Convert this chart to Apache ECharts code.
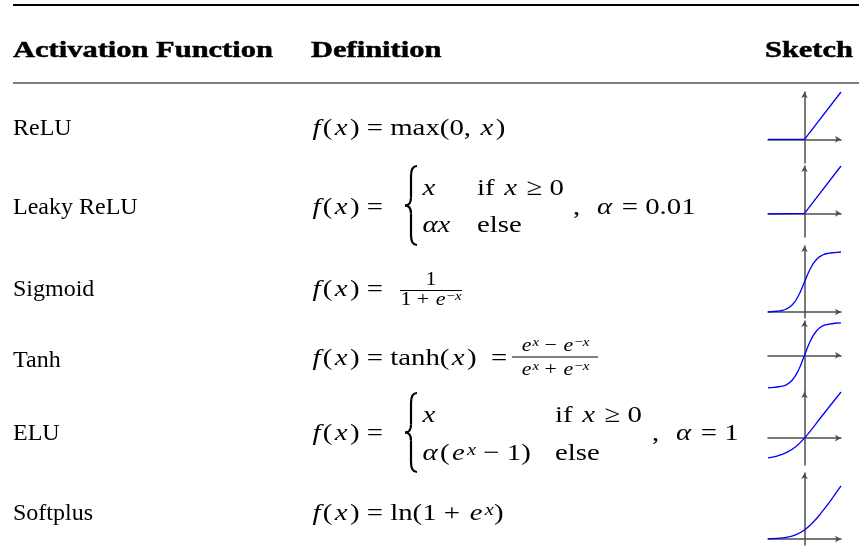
<!DOCTYPE html>
<html>
<head>
<meta charset="utf-8">
<script src="https://cdn.jsdelivr.net/npm/echarts@6/dist/echarts.min.js"></script>
<style>
  html, body { margin: 0; padding: 0; background: #fff; }
  #main { width: 859px; height: 548px; }
</style>
</head>
<body>
<div id="main"></div>
<script>
// table texts
var headers = ['Activation Function', 'Definition', 'Sketch'];
var names = ['ReLU', 'Leaky ReLU', 'Sigmoid', 'Tanh', 'ELU', 'Softplus'];

// sketch curves
var reluX = [-1, 0, 1];
var reluY = [0, 0, 1];
var leakyX = [-1, 0, 1];
var leakyY = [-0.01, 0, 1];
var sigmoidX = [-6, -5, -4, -3, -2, -1, 0, 1, 2, 3, 4, 5, 6];
var sigmoidY = [0.00, 0.01, 0.02, 0.05, 0.12, 0.27, 0.50, 0.73, 0.88, 0.95, 0.98, 0.99, 1.00];
var tanhX = [-3, -2.5, -2, -1.5, -1, -0.5, 0, 0.5, 1, 1.5, 2, 2.5, 3];
var tanhY = [-1.00, -0.99, -0.96, -0.91, -0.76, -0.46, 0, 0.46, 0.76, 0.91, 0.96, 0.99, 1.00];
var eluX = [-2, -1.5, -1, -0.5, 0, 1, 2];
var eluY = [-0.86, -0.78, -0.63, -0.39, 0, 1, 2];
var softplusX = [-4, -3, -2, -1, 0, 1, 2, 3, 4];
var softplusY = [0.02, 0.05, 0.13, 0.31, 0.69, 1.31, 2.13, 3.05, 4.02];

// axis ranges of each sketch
var sketchXRange = [[-1, 1], [-1, 1], [-6, 6], [-3, 3], [-2, 2], [-4, 4]];
var sketchYRange = [[-0.5, 1], [-0.5, 1], [-0.1, 1.1], [-1.13, 1.06], [-1.17, 2], [-0.45, 5]];

var F = '"Liberation Serif", "DejaVu Serif", serif';
var FS = 24;

var sketches = [
  [reluX, reluY], [leakyX, leakyY], [sigmoidX, sigmoidY],
  [tanhX, tanhY], [eluX, eluY], [softplusX, softplusY]
];
var gridTops = [92, 166, 246, 321, 392, 473];
var gridHeights = [71, 71, 72, 71, 73, 72];
var rowY = [129, 208, 290, 361, 434, 514];

var richFor = function(size, pad) {
  return {
    i: { fontFamily: F, fontSize: size, fontStyle: 'italic', padding: [0, pad, 0, pad] },
    s: { fontFamily: F, fontSize: Math.round(size * 0.7), verticalAlign: 'top' },
    si: { fontFamily: F, fontSize: Math.round(size * 0.7), fontStyle: 'italic', verticalAlign: 'top' }
  };
};

var txt = function(x, y, text, size, align, weight, sx) {
  size = size || FS;
  var bold = weight === 'bold';
  var st = {
    text: text, fontFamily: F, fontSize: size, fontWeight: weight || 'normal',
    fill: '#000', align: align || 'left', verticalAlign: 'middle',
    rich: richFor(size, size > 20 ? 2 : 1)
  };
  if (bold) {
    st.stroke = '#000';
    st.lineWidth = 0.5;
  }
  return { type: 'text', x: x, y: y, silent: true, scaleX: sx || 1, style: st };
};

var hline = function(x1, x2, y, w, color) {
  return {
    type: 'line', silent: true,
    shape: { x1: x1, y1: y, x2: x2, y2: y },
    style: { stroke: color || '#000', lineWidth: w }
  };
};

// curly brace made of quadratic curves
var brace = function(x, top, bottom) {
  var mid = (top + bottom) / 2;
  var w = 12, c = x + w / 2;
  var st = { stroke: '#000', lineWidth: 2.2, fill: null };
  var seg = function(x1, y1, cx, cy, x2, y2) {
    return { type: 'bezierCurve', silent: true, shape: { x1: x1, y1: y1, cpx1: cx, cpy1: cy, x2: x2, y2: y2 }, style: st };
  };
  return {
    type: 'group',
    children: [
      seg(x + w, top, c, top, c, top + 10),
      { type: 'line', silent: true, shape: { x1: c, y1: top + 10, x2: c, y2: mid - 8 }, style: st },
      seg(c, mid - 8, c, mid, x, mid),
      seg(x, mid, c, mid, c, mid + 8),
      { type: 'line', silent: true, shape: { x1: c, y1: mid + 8, x2: c, y2: bottom - 10 }, style: st },
      seg(c, bottom - 10, c, bottom, x + w, bottom)
    ]
  };
};

var BS = 1.27; // bold header stretch
var MS = 1.2;  // math stretch
var FR = 1.15; // fraction stretch
var graphics = [
  hline(13, 859, 5, 2),
  hline(13, 859, 83, 1.2),
  txt(13, 51, headers[0], FS, 'left', 'bold', BS),
  txt(311, 51, headers[1], FS, 'left', 'bold', BS),
  txt(853, 51, headers[2], FS, 'right', 'bold', BS)
];
names.forEach(function(n, k) {
  graphics.push(txt(13, rowY[k], n));
});

var m = function(x, y, text) { return txt(x, y, text, FS, 'left', 'normal', MS); };
var fr = function(x, y, text) { return txt(x, y, text, 19, 'center', 'normal', FR); };

// ReLU
graphics.push(m(310, 129, '{i|f}({i|x}) = max(0, {i|x})'));
// Leaky ReLU
graphics.push(m(310, 208, '{i|f}({i|x}) ='));
graphics.push(brace(405, 166, 245));
graphics.push(m(420, 189, '{i|x}'));
graphics.push(m(477, 189, 'if {i|x} ≥ 0'));
graphics.push(m(420, 226, '{i|αx}'));
graphics.push(m(477, 226, 'else'));
graphics.push(m(573, 208, ',  {i|α} = 0.01'));
// Sigmoid
graphics.push(m(310, 290, '{i|f}({i|x}) ='));
graphics.push(fr(431, 280, '1'));
graphics.push(hline(400, 462, 290.5, 1));
graphics.push(fr(431, 300, '1 + {i|e}{s|−}{si|x}'));
// Tanh
graphics.push(m(310, 359, '{i|f}({i|x}) = tanh({i|x})  ='));
graphics.push(fr(555, 346, '{i|e}{si|x} − {i|e}{s|−}{si|x}'));
graphics.push(hline(512, 598, 357, 1));
graphics.push(fr(555, 370, '{i|e}{si|x} + {i|e}{s|−}{si|x}'));
// ELU
graphics.push(m(310, 434, '{i|f}({i|x}) ='));
graphics.push(brace(405, 393, 472));
graphics.push(m(420, 416, '{i|x}'));
graphics.push(m(555, 416, 'if {i|x} ≥ 0'));
graphics.push(m(420, 454, '{i|α}({i|e}{si|x} − 1)'));
graphics.push(m(555, 454, 'else'));
graphics.push(m(652, 434, ',  {i|α} = 1'));
// Softplus
graphics.push(m(310, 514, '{i|f}({i|x}) = ln(1 + {i|e}{si|x})'));

var axisStyle = { color: '#4d4d4d', width: 1.5 };
var grids = [], xAxes = [], yAxes = [], series = [];
sketches.forEach(function(s, k) {
  grids.push({ left: 768, width: 73, top: gridTops[k], height: gridHeights[k] });
  var common = {
    type: 'value',
    gridIndex: k,
    axisTick: { show: false },
    axisLabel: { show: false },
    splitLine: { show: false },
    axisLine: { onZero: true, symbol: ['none', 'arrow'], symbolSize: [5, 6], lineStyle: axisStyle }
  };
  xAxes.push(Object.assign({}, common, { min: sketchXRange[k][0], max: sketchXRange[k][1] }));
  yAxes.push(Object.assign({}, common, { min: sketchYRange[k][0], max: sketchYRange[k][1] }));
  series.push({
    type: 'line',
    xAxisIndex: k, yAxisIndex: k,
    data: s[0].map(function(v, j) { return [v, s[1][j]]; }),
    smooth: k >= 2 ? 0.5 : false,
    showSymbol: false,
    lineStyle: { color: '#0000ff', width: 1.3 },
    z: 3
  });
});

var chart = echarts.init(document.getElementById('main'));
chart.setOption({
  animation: false,
  backgroundColor: '#fff',
  grid: grids,
  xAxis: xAxes,
  yAxis: yAxes,
  series: series,
  graphic: graphics
});
</script>
</body>
</html>
